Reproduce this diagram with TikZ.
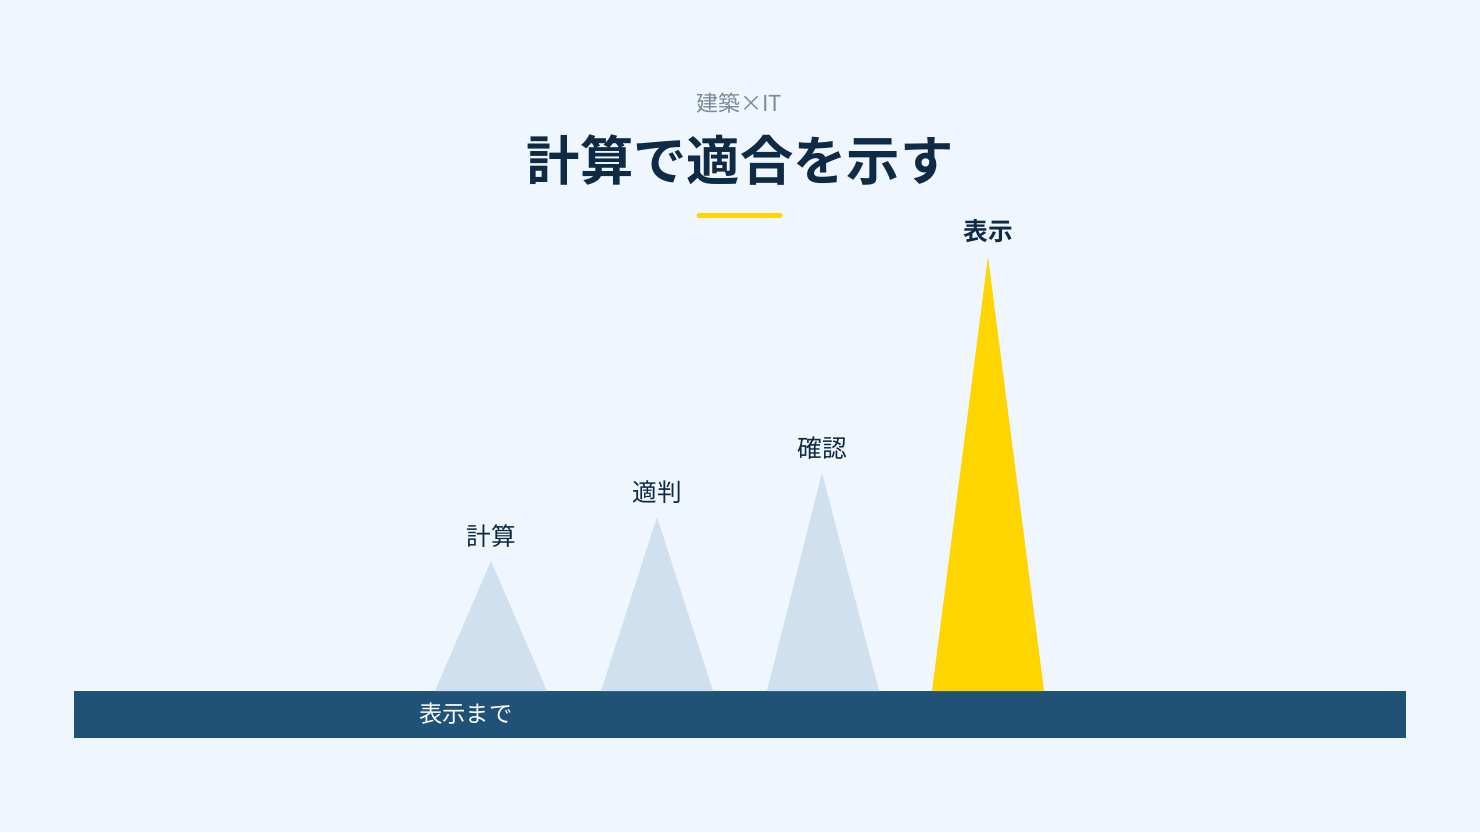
\documentclass[tikz,border=0pt]{standalone}
\usepackage{fontspec}
\newfontfamily\jpfont{Noto Sans CJK JP}
\newfontfamily\jpbold{Noto Sans CJK JP Bold}
\definecolor{bgblue}{HTML}{EFF6FD}
\definecolor{barblue}{HTML}{1F5276}
\definecolor{peakblue}{HTML}{D0E0EF}
\definecolor{peakyellow}{HTML}{FFD500}
\definecolor{navy}{HTML}{0F2A44}
\definecolor{subgray}{HTML}{7B8A99}
\tikzset{
  peak/.style={fill=peakblue, draw=none},
  peaklabel/.style={font=\jpfont\fontsize{18.5}{20}\selectfont, text=navy, inner sep=0pt}
}
\begin{document}
\begin{tikzpicture}[x=0.75pt, y=-0.75pt]
    \fill[bgblue] (0,0) rectangle (1480,832);
    \useasboundingbox (0,0) rectangle (1480,832);

    % Heading
    \node[font=\jpfont\fontsize{16.5}{18}\selectfont, text=subgray, inner sep=0pt] (sub) at (739,103) {建築×IT};
    \node[font=\jpbold\fontsize{40}{44}\selectfont, text=navy, inner sep=0pt] (title) at (740,160) {計算で適合を示す};
    \draw[peakyellow, line width=3.75pt, line cap=round] (699,215) -- (780,215);

    % Base bar
    \fill[barblue] (74,691) rectangle (1406,738);
    \node[font=\jpfont\fontsize{17.5}{19}\selectfont, text=white, anchor=west, inner sep=0pt] (base) at (419,714) {表示まで};

    % Peaks
    \fill[peak] (435,691) -- (491,561) -- (547,691) -- cycle;
    \fill[peak] (601,691) -- (657,517) -- (713,691) -- cycle;
    \fill[peak] (767,691) -- (822,473) -- (879,691) -- cycle;
    \fill[peakyellow] (932,691) -- (988,257) -- (1044,691) -- cycle;

    % Labels for peaks
    \node[peaklabel] (calc) at (491,536) {計算};
    \node[peaklabel] (judge) at (657,492) {適判};
    \node[peaklabel] (check) at (822,448) {確認};
    \node[peaklabel, font=\jpbold\fontsize{18.5}{20}\selectfont] (show) at (988,231) {表示};
  \end{tikzpicture}
\end{document}
